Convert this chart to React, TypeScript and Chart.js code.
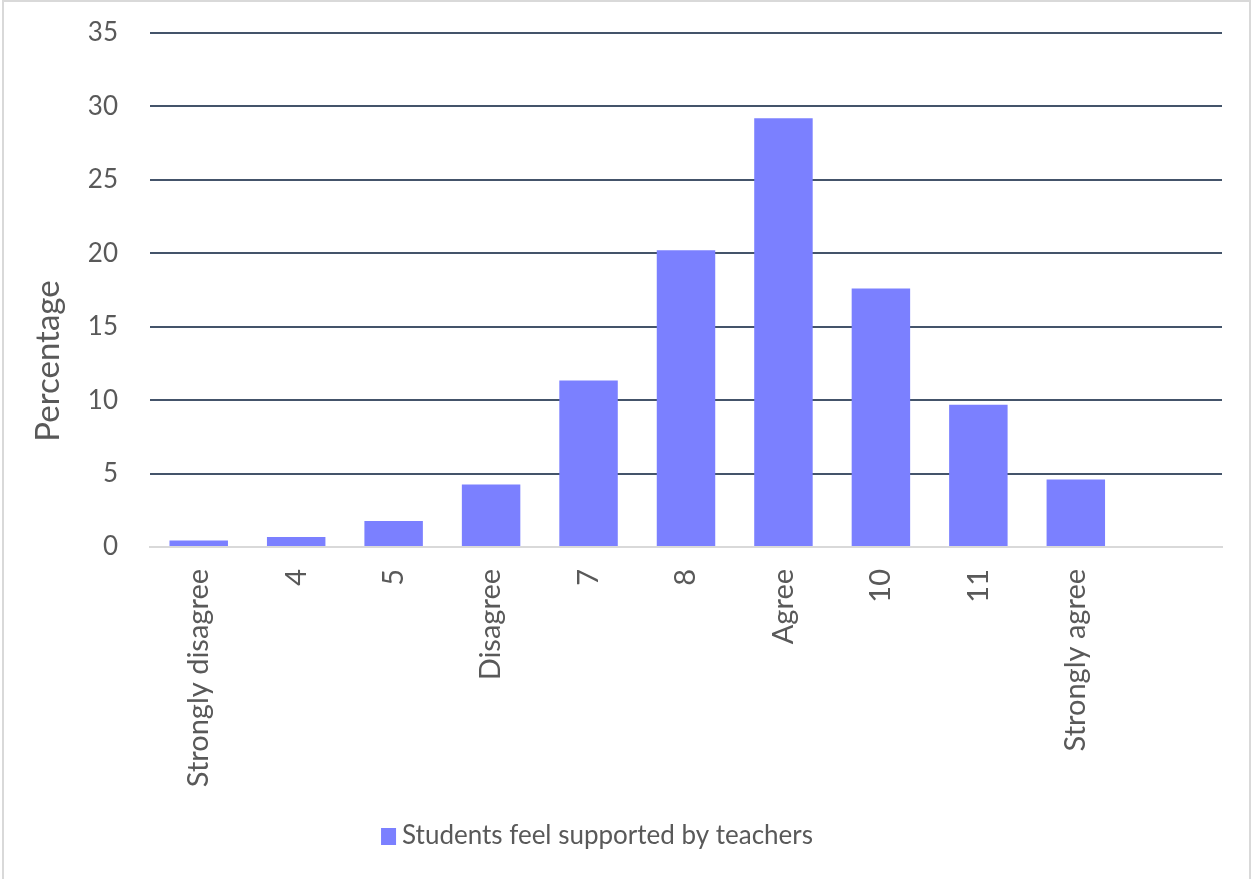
import React, { useEffect, useRef } from "react";
import { Chart, registerables } from "chart.js";

Chart.register(...registerables);

const categories: string[] = [
  "Strongly disagree",
  "4",
  "5",
  "Disagree",
  "7",
  "8",
  "Agree",
  "10",
  "11",
  "Strongly agree",
  "",
];

const supportValues: (number | null)[] = [
  0.45, 0.68, 1.77, 4.25, 11.34, 20.2, 29.2, 17.6, 9.68, 4.59, null,
];

const seriesLabel = "Students feel supported by teachers";
const yAxisTitle = "Percentage";
const yMin = 0;
const yMax = 35;
const yStep = 5;

const FONT = "Lato, 'Open Sans', sans-serif";
const TEXT = "#595959";
const BAR = "#7B80FF";

// Light frame around the whole chart
const framePlugin = {
  id: "frame",
  beforeDraw(chart: Chart) {
    const { ctx, width, height } = chart;
    ctx.save();
    ctx.fillStyle = "#ffffff";
    ctx.fillRect(0, 0, width, height);
    ctx.strokeStyle = "#D9D9D9";
    ctx.lineWidth = 2;
    ctx.beginPath();
    ctx.moveTo(3, height + 5);
    ctx.lineTo(3, 1);
    ctx.lineTo(width - 2, 1);
    ctx.lineTo(width - 2, height + 5);
    ctx.stroke();
    ctx.restore();
  },
};

// Vertical axis title, placed a little below the plot's middle
const axisTitlePlugin = {
  id: "axisTitle",
  afterDraw(chart: Chart) {
    const { ctx } = chart;
    ctx.save();
    ctx.translate(48, 361);
    ctx.rotate(-Math.PI / 2);
    ctx.font = `33px ${FONT}`;
    ctx.fillStyle = TEXT;
    ctx.textAlign = "center";
    ctx.textBaseline = "middle";
    ctx.fillText(yAxisTitle, 0, 0);
    ctx.restore();
  },
};

// Single-entry legend under the axis labels, built from the dataset
const legendPlugin = {
  id: "seriesKey",
  afterDraw(chart: Chart) {
    const { ctx } = chart;
    const ds = chart.data.datasets[0] as any;
    ctx.save();
    ctx.font = `26px ${FONT}`;
    const label = String(ds.label);
    const tw = ctx.measureText(label).width;
    const box = 15;
    const gap = 6;
    const total = box + gap + tw;
    const cx = 597;
    const cy = 836;
    const x0 = cx - total / 2;
    ctx.fillStyle = ds.backgroundColor;
    ctx.fillRect(x0, cy - 8, box, 17);
    ctx.fillStyle = TEXT;
    ctx.textAlign = "left";
    ctx.textBaseline = "middle";
    ctx.fillText(label, x0 + box + gap, cy);
    ctx.restore();
  },
};

export default function App() {
  const canvasRef = useRef<HTMLCanvasElement | null>(null);

  useEffect(() => {
    document.body.style.margin = "0";
    const canvas = canvasRef.current;
    if (!canvas) return;

    const chart = new Chart(canvas, {
      type: "bar",
      data: {
        labels: categories,
        datasets: [
          {
            label: seriesLabel,
            data: supportValues,
            backgroundColor: BAR,
            borderWidth: 0,
            categoryPercentage: 1,
            barPercentage: 0.6,
          },
        ],
      },
      plugins: [framePlugin, axisTitlePlugin, legendPlugin],
      options: {
        responsive: false,
        animation: false,
        layout: { padding: { top: 33, right: 30, left: 0, bottom: 62 } },
        plugins: {
          tooltip: { enabled: false },
          legend: { display: false },
        },
        scales: {
          x: {
            grid: { display: false, drawTicks: false },
            border: { display: true, color: "#D9D9D9", width: 2 },
            ticks: {
              color: TEXT,
              font: { family: FONT, size: 29 },
              minRotation: 90,
              maxRotation: 90,
              padding: 22,
              autoSkip: false,
            },
            afterFit(scale: any) {
              scale.height = 270;
            },
          },
          y: {
            min: yMin,
            max: yMax,
            grid: {
              color: (c: any) => (c.tick && c.tick.value === 0 ? "rgba(0,0,0,0)" : "#44546A"),
              lineWidth: 2,
              drawTicks: false,
            },
            border: { display: false },
            ticks: {
              stepSize: yStep,
              color: TEXT,
              font: { family: FONT, size: 26 },
              padding: 32,
            },
            afterFit(scale: any) {
              scale.width = 150;
              scale.paddingTop = 0;
              scale.paddingBottom = 0;
            },
          },
        },
      },
    });

    return () => chart.destroy();
  }, []);

  return (
    <div style={{ width: 1252, height: 879 }}>
      <canvas ref={canvasRef} width={1252} height={879} style={{ display: "block" }} />
    </div>
  );
}
